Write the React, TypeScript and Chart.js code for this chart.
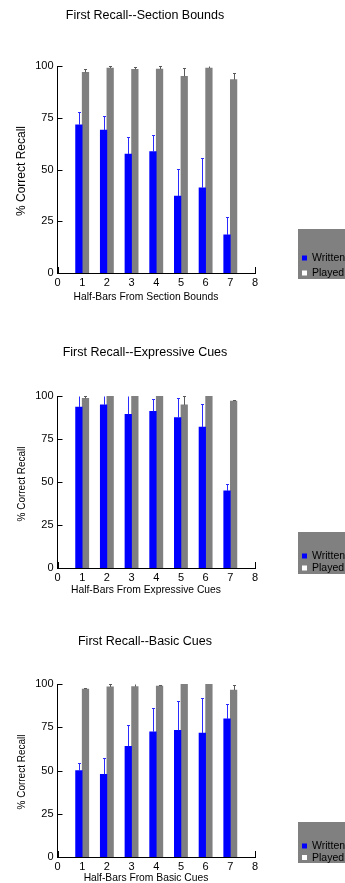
import React, { useEffect, useRef } from "react";
import { Chart, registerables } from "chart.js";

Chart.register(...registerables);

const FONT = '"Liberation Sans", Arial, Helvetica, sans-serif';

// Axis ranges
const halfBars = [1, 2, 3, 4, 5, 6, 7];
const xMin = 0;
const xMax = 8;
const xStep = 1;
const yMin = 0;
const yMax = 100;
const yStep = 25;

const seriesNames = ["Written", "Played"];
const seriesColors = ["#0000ff", "#808080"];
const errorColors = ["#2b2bff", "#5a5a5a"];
const legendSwatches = ["#0000ff", "#ffffff"];

const yAxisTitle = "% Correct Recall";

// Section bounds
const sectionWritten = [71.6, 69.0, 57.5, 58.6, 37.2, 41.2, 18.4];
const sectionWrittenErr = [6.4, 6.8, 8.3, 8.1, 12.9, 14.4, 8.7];
const sectionPlayed = [96.9, 99.0, 98.4, 98.5, 95.0, 99.0, 93.4];
const sectionPlayedErr = [1.6, 0.8, 1.1, 1.5, 4.0, 1.5, 3.2];

// Expressive cues
const expressiveWritten = [93.6, 94.8, 89.4, 91.1, 87.5, 81.9, 44.8];
const expressiveWrittenErr = [7.0, 6.0, 11.0, 7.0, 11.5, 13.3, 4.0];
const expressivePlayed = [98.6, 100, 100, 100, 94.8, 100, 97.1];
const expressivePlayedErr = [1.4, 0, 0, 0, 5.2, 0, 0.8];

// Basic cues
const basicWritten = [49.9, 47.8, 64.0, 72.4, 73.2, 71.7, 79.8];
const basicWrittenErr = [4.6, 9.4, 12.5, 13.5, 17.2, 20.2, 8.8];
const basicPlayed = [97.1, 98.3, 98.5, 98.8, 100, 100, 96.5];
const basicPlayedErr = [0.8, 1.5, 1.9, 0.8, 0, 0, 2.7];

type Layout = {
  canvasTop: number;
  canvasHeight: number;
  plotTop: number;
  plotBottom: number;
  titleY: number;
  xTitleY: number;
  yTitleY: number;
  yTitleSize: number;
  legendTop: number;
  legendBottom: number;
  writtenY: number;
  playedY: number;
};

type Panel = {
  title: string;
  xTitle: string;
  written: number[];
  writtenErr: number[];
  played: number[];
  playedErr: number[];
  layout: Layout;
};

const PLOT_LEFT = 57.5;
const PLOT_RIGHT = 255;
const CANVAS_W = 345;
const X_AXIS_BAND = 20;

const panels: Panel[] = [
  {
    title: "First Recall--Section Bounds",
    xTitle: "Half-Bars From Section Bounds",
    written: sectionWritten,
    writtenErr: sectionWrittenErr,
    played: sectionPlayed,
    playedErr: sectionPlayedErr,
    layout: {
      canvasTop: 0,
      canvasHeight: 302,
      plotTop: 66,
      plotBottom: 273,
      titleY: 16,
      xTitleY: 297,
      yTitleY: 171,
      yTitleSize: 12,
      legendTop: 229,
      legendBottom: 279,
      writtenY: 258,
      playedY: 273,
    },
  },
  {
    title: "First Recall--Expressive Cues",
    xTitle: "Half-Bars From Expressive Cues",
    written: expressiveWritten,
    writtenErr: expressiveWrittenErr,
    played: expressivePlayed,
    playedErr: expressivePlayedErr,
    layout: {
      canvasTop: 300,
      canvasHeight: 295,
      plotTop: 96,
      plotBottom: 268,
      titleY: 53,
      xTitleY: 290,
      yTitleY: 184,
      yTitleSize: 10,
      legendTop: 232,
      legendBottom: 274,
      writtenY: 256,
      playedY: 268,
    },
  },
  {
    title: "First Recall--Basic Cues",
    xTitle: "Half-Bars From Basic Cues",
    written: basicWritten,
    writtenErr: basicWrittenErr,
    played: basicPlayed,
    playedErr: basicPlayedErr,
    layout: {
      canvasTop: 590,
      canvasHeight: 293,
      plotTop: 94,
      plotBottom: 267,
      titleY: 52,
      xTitleY: 288,
      yTitleY: 182,
      yTitleSize: 10,
      legendTop: 232,
      legendBottom: 273,
      writtenY: 256,
      playedY: 267.5,
    },
  },
];

function makeDecorPlugin(panel: Panel) {
  const L = panel.layout;
  return {
    id: "panelDecor",
    // inward tick marks, drawn under the bars
    beforeDatasetsDraw(chart: any) {
      const { ctx, chartArea, scales } = chart;
      ctx.save();
      ctx.strokeStyle = "#000";
      ctx.lineWidth = 1;
      ctx.beginPath();
      scales.y.ticks.forEach((t: any) => {
        const y = Math.round(scales.y.getPixelForValue(t.value)) + 0.5;
        ctx.moveTo(chartArea.left, y);
        ctx.lineTo(chartArea.left + 5, y);
      });
      scales.x.ticks.forEach((t: any) => {
        const x = Math.round(scales.x.getPixelForValue(t.value)) + 0.5;
        ctx.moveTo(x, chartArea.bottom);
        ctx.lineTo(x, chartArea.bottom - 6);
      });
      ctx.stroke();
      ctx.restore();
    },
    // upper error bars
    afterDatasetsDraw(chart: any) {
      const { ctx, chartArea, scales } = chart;
      ctx.save();
      ctx.lineWidth = 1;
      chart.data.datasets.forEach((ds: any, i: number) => {
        const meta = chart.getDatasetMeta(i);
        ctx.strokeStyle = errorColors[i];
        meta.data.forEach((bar: any, j: number) => {
          const v = ds.data[j].y;
          const e = ds.errors[j];
          if (!e) return;
          const x = Math.round(bar.x) + 0.5;
          const yTop = scales.y.getPixelForValue(v + e);
          const clipped = yTop < chartArea.top;
          const y1 = Math.round(Math.max(yTop, chartArea.top)) + 0.5;
          ctx.beginPath();
          ctx.moveTo(x, bar.y);
          ctx.lineTo(x, y1);
          if (!clipped) {
            ctx.moveTo(x - 1.5, y1);
            ctx.lineTo(x + 1.5, y1);
          }
          ctx.stroke();
        });
      });
      ctx.restore();
    },
    // titles and legend
    afterDraw(chart: any) {
      const { ctx } = chart;
      ctx.save();
      ctx.fillStyle = "#000";
      ctx.textBaseline = "middle";
      ctx.textAlign = "center";

      ctx.font = `12.5px ${FONT}`;
      ctx.fillText(panel.title, 145, L.titleY);

      ctx.font = `10.3px ${FONT}`;
      ctx.fillText(panel.xTitle, 146, L.xTitleY);

      ctx.save();
      ctx.translate(22, L.yTitleY);
      ctx.rotate(-Math.PI / 2);
      ctx.font = `${L.yTitleSize}px ${FONT}`;
      ctx.fillText(yAxisTitle, 0, 0);
      ctx.restore();

      // legend box
      ctx.fillStyle = "#808080";
      ctx.fillRect(298, L.legendTop, CANVAS_W - 298, L.legendBottom - L.legendTop);
      const rows = [L.writtenY, L.playedY];
      ctx.textAlign = "left";
      ctx.font = `10.5px ${FONT}`;
      seriesNames.forEach((name, i) => {
        ctx.fillStyle = legendSwatches[i];
        ctx.fillRect(302, rows[i] - 2.5, 5, 5);
        ctx.fillStyle = "#000";
        ctx.fillText(name, 312, rows[i] + 0.5);
      });
      ctx.restore();
    },
  };
}

function PanelChart({ panel }: { panel: Panel }) {
  const ref = useRef<HTMLCanvasElement | null>(null);
  const L = panel.layout;

  useEffect(() => {
    if (!ref.current) return;
    const tickFont = { family: FONT, size: 11 };
    const chart = new Chart(ref.current, {
      type: "bar",
      data: {
        datasets: [
          {
            label: seriesNames[0],
            data: halfBars.map((x, i) => ({ x, y: panel.written[i] })),
            backgroundColor: seriesColors[0],
            borderWidth: 0,
            barThickness: 6.6,
            errors: panel.writtenErr,
          } as any,
          {
            label: seriesNames[1],
            data: halfBars.map((x, i) => ({ x, y: panel.played[i] })),
            backgroundColor: seriesColors[1],
            borderWidth: 0,
            barThickness: 6.6,
            errors: panel.playedErr,
          } as any,
        ],
      },
      options: {
        responsive: false,
        animation: false,
        devicePixelRatio: 1,
        events: [],
        layout: {
          padding: {
            left: 0,
            right: CANVAS_W - PLOT_RIGHT,
            top: L.plotTop,
            bottom: L.canvasHeight - L.plotBottom - X_AXIS_BAND,
          },
        },
        plugins: {
          legend: { display: false },
          title: { display: false },
          tooltip: { enabled: false },
        },
        scales: {
          x: {
            type: "linear",
            min: xMin,
            max: xMax,
            offset: false,
            grid: { display: false, drawTicks: false },
            border: { display: true, color: "#000", width: 1 },
            ticks: {
              stepSize: xStep,
              color: "#000",
              font: tickFont,
              padding: 3.5,
              maxRotation: 0,
              minRotation: 0,
              autoSkip: false,
            },
            afterFit: (s: any) => {
              s.height = X_AXIS_BAND;
            },
          },
          y: {
            min: yMin,
            max: yMax,
            grid: { display: false, drawTicks: false },
            border: { display: true, color: "#000", width: 1 },
            ticks: {
              stepSize: yStep,
              color: "#000",
              font: tickFont,
              padding: 4,
            },
            afterFit: (s: any) => {
              s.width = PLOT_LEFT;
            },
          },
        },
      } as any,
      plugins: [makeDecorPlugin(panel)],
    });
    return () => chart.destroy();
  }, [panel]);

  return (
    <canvas
      ref={ref}
      width={CANVAS_W}
      height={L.canvasHeight}
      style={{
        position: "absolute",
        left: 0,
        top: L.canvasTop,
        width: CANVAS_W,
        height: L.canvasHeight,
        display: "block",
      }}
    />
  );
}

export default function App() {
  return (
    <div
      style={{
        position: "absolute",
        left: 0,
        top: 0,
        width: CANVAS_W,
        height: 883,
        background: "#fff",
        overflow: "hidden",
      }}
    >
      {panels.map((p) => (
        <PanelChart key={p.title} panel={p} />
      ))}
    </div>
  );
}
